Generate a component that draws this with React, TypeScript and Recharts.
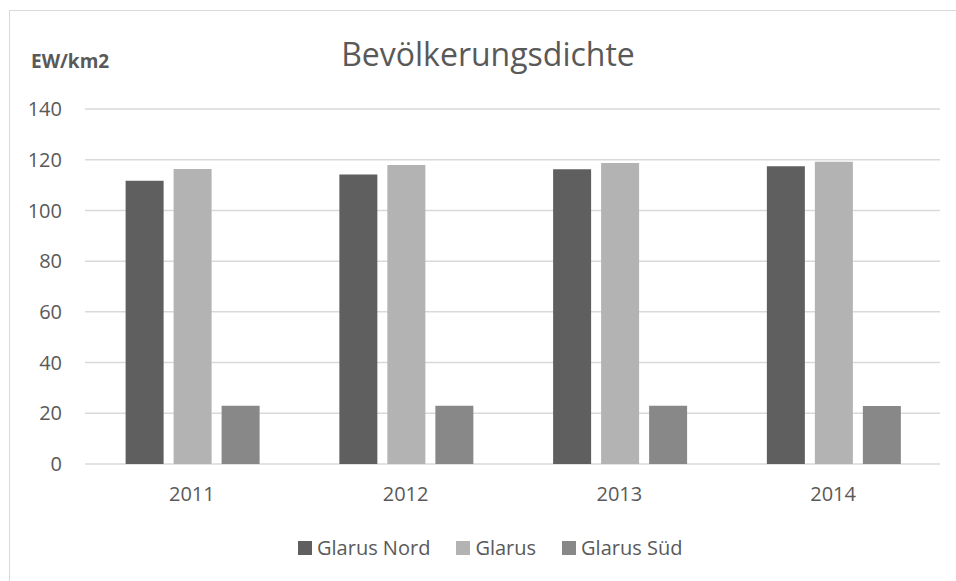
import { Bar, BarChart, CartesianGrid, XAxis, YAxis } from "recharts";

const years = ["2011", "2012", "2013", "2014"];
const glarusNord = [111.7, 114.2, 116.2, 117.4];
const glarus = [116.3, 117.9, 118.7, 119.2];
const glarusSued = [23.0, 23.0, 23.0, 22.9];
const yTicks = [0, 20, 40, 60, 80, 100, 120, 140];

const series = [
  { key: "nord", name: "Glarus Nord", color: "#5f5f5f" },
  { key: "glarus", name: "Glarus", color: "#b3b3b3" },
  { key: "sued", name: "Glarus Süd", color: "#888888" },
];

const data = years.map((year, i) => ({
  year,
  nord: glarusNord[i],
  glarus: glarus[i],
  sued: glarusSued[i],
}));

const font = "'Open Sans', sans-serif";
const textColor = "#595959";

function ChartLegend() {
  return (
    <div
      style={{
        position: "absolute",
        left: 298,
        top: 536,
        display: "flex",
        alignItems: "center",
        fontFamily: font,
        fontSize: 20,
        color: textColor,
      }}
    >
      {series.map((s) => (
        <div key={s.key} style={{ display: "flex", alignItems: "center", marginRight: 26 }}>
          <span style={{ width: 14, height: 14, background: s.color, marginRight: 5, display: "inline-block" }} />
          <span style={{ lineHeight: "24px" }}>{s.name}</span>
        </div>
      ))}
    </div>
  );
}

export default function App() {
  return (
    <div style={{ position: "absolute", left: 0, top: 0, width: 956, height: 581, background: "#fff" }}>
      <div
        style={{
          position: "absolute",
          left: 9,
          top: 10,
          width: 947,
          height: 571,
          borderTop: "1px solid #d9d9d9",
          borderLeft: "1px solid #d9d9d9",
          boxSizing: "border-box",
        }}
      />
      <BarChart
        width={956}
        height={581}
        data={data}
        margin={{ top: 109, right: 16, bottom: 87, left: 0 }}
        barCategoryGap="19%"
        barGap={10}
        style={{ position: "absolute", left: 0, top: 0 }}
      >
        <text x={488} y={66} textAnchor="middle" fontFamily={font} fontSize={32} fill={textColor}>
          Bevölkerungsdichte
        </text>
        <text x={31} y={68} fontFamily={font} fontSize={19} fontWeight="bold" fill={textColor}>
          EW/km2
        </text>
        <CartesianGrid vertical={false} stroke="#d9d9d9" strokeWidth={1.5} />
        <XAxis
          dataKey="year"
          axisLine={false}
          tickLine={false}
          tickMargin={17}
          tick={{ fill: textColor, fontFamily: font, fontSize: 20 }}
        />
        <YAxis
          width={85}
          domain={[0, 140]}
          ticks={yTicks}
          axisLine={false}
          tickLine={false}
          tickMargin={17}
          tick={{ fill: textColor, fontFamily: font, fontSize: 20 }}
        />
        {series.map((s) => (
          <Bar key={s.key} dataKey={s.key} name={s.name} fill={s.color} isAnimationActive={false} />
        ))}
      </BarChart>
      <ChartLegend />
    </div>
  );
}
